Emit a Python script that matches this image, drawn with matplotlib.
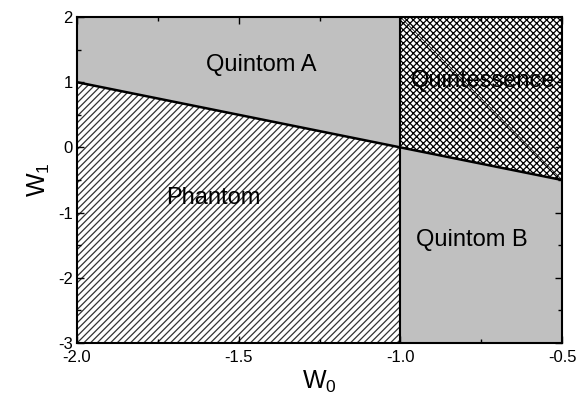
import numpy as np
import matplotlib.pyplot as plt
from matplotlib.ticker import MultipleLocator

plt.rcParams['font.family'] = ['Liberation Sans', 'DejaVu Sans']
plt.rcParams['hatch.linewidth'] = 0.9
plt.rcParams['mathtext.fontset'] = 'custom'
plt.rcParams['mathtext.rm'] = 'Liberation Sans'

# boundary w0 + w1 = -1
w0_left = [-2.0, -1.0]
w1_left = [1.0, 0.0]
w0_right = [-1.0, -0.5]
w1_right = [0.0, -0.5]
w1_top = 2.0
w1_bottom = -3.0

labels = ['Quintom A', 'Quintessence', 'Phantom', 'Quintom B']
label_x = [-1.43, -0.745, -1.58, -0.78]
label_y = [1.26, 1.02, -0.78, -1.42]

gray = '#c0c0c0'

fig = plt.figure(figsize=(5.81, 4.01), dpi=100)
ax = fig.add_axes([0.1325, 0.1446, 0.835, 0.813])

# Quintom A (above line, w0 < -1)
ax.fill_between(w0_left, w1_left, w1_top, facecolor=gray, edgecolor='none')
# Phantom (below line, w0 < -1)
ax.fill_between(w0_left, w1_bottom, w1_left, facecolor='white', edgecolor='#333333',
                hatch='/////', linewidth=0)
# Quintessence (above line, w0 > -1)
ax.fill_between(w0_right, w1_right, w1_top, facecolor='white', edgecolor='black',
                hatch='xxxxx', linewidth=0)
# Quintom B (below line, w0 > -1)
ax.fill_between(w0_right, w1_bottom, w1_right, facecolor=gray, edgecolor='none')

# faint diagonal artifact in quintessence box
ax.plot([w0_right[0], w0_right[1]], [w1_top, w1_right[1]], color='black', lw=0.5)

ax.plot(w0_left + w0_right[1:], w1_left + w1_right[1:], color='black', lw=1.8)
ax.plot([-1.0, -1.0], [w1_bottom, w1_top], color='black', lw=1.5)

for t, x, y in zip(labels, label_x, label_y):
    ax.text(x, y, t, fontsize=17, ha='center', va='center')

ax.set_xlim(-2.0, -0.5)
ax.set_ylim(-3, 2)
ax.xaxis.set_minor_locator(MultipleLocator(0.25))
ax.yaxis.set_minor_locator(MultipleLocator(0.5))
ax.set_xticks([-2.0, -1.5, -1.0, -0.5])
ax.set_xticklabels(['-2.0', '-1.5', '-1.0', '-0.5'])
ax.set_yticks([-3, -2, -1, 0, 1, 2])
ax.set_yticklabels(['-3', '-2', '-1', '0', '1', '2'])
ax.tick_params(which='both', direction='in', top=True, right=True, labelsize=12)
ax.tick_params(axis='x', pad=5)
ax.tick_params(axis='y', pad=3)
ax.tick_params(which='major', length=5, width=1)
ax.tick_params(which='minor', length=3, width=1)
for s in ax.spines.values():
    s.set_linewidth(1.5)

ax.set_xlabel(r'W$_\mathregular{0}$', fontsize=18, labelpad=3)
ax.set_ylabel(r'W$_\mathregular{1}$', fontsize=18, labelpad=4)

fig.savefig('out.png', dpi=100)
